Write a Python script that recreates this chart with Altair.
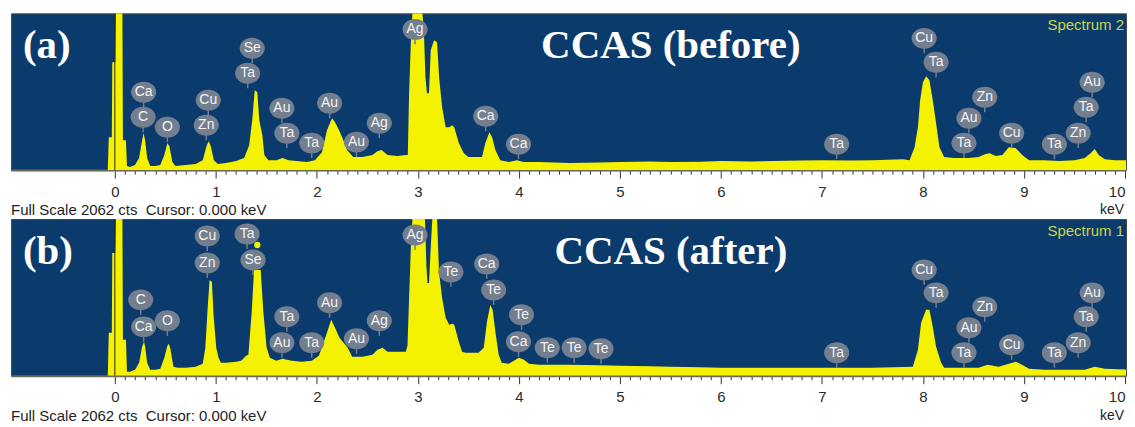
import altair as alt
import pandas as pd

# ---------------- data ----------------
# Panel (a) "CCAS (before)" spectrum: energy (keV) and counts (full scale 2062 cts)
a_kev = [-0.07, -0.06, -0.03, -0.025, 0.005, 0.01, 0.075, 0.08, 0.11, 0.12, 0.15, 0.2, 0.24, 0.27, 0.285,
         0.30, 0.32, 0.35, 0.4, 0.45, 0.49, 0.52, 0.54, 0.57, 0.6, 0.7, 0.8, 0.87, 0.91, 0.93,
         0.95, 0.98, 1.02, 1.1, 1.2, 1.28, 1.33, 1.36, 1.385, 1.41, 1.43, 1.46, 1.48, 1.52, 1.6,
         1.66, 1.72, 1.8, 1.9, 1.98, 2.05, 2.10, 2.15, 2.18, 2.22, 2.25, 2.30, 2.36, 2.45, 2.55,
         2.6, 2.64, 2.7, 2.8, 2.88, 2.9, 2.913, 2.93, 2.946, 3.045, 3.06, 3.075, 3.09, 3.11, 3.127,
         3.16, 3.19, 3.21, 3.24, 3.275, 3.31, 3.34, 3.36, 3.405, 3.455, 3.5, 3.6, 3.635, 3.668, 3.708,
         3.735, 3.767, 3.816, 3.9, 3.98, 4.05, 4.2, 4.5, 4.8, 5.0, 5.3, 5.5, 5.8, 6.0, 6.3,
         6.5, 6.8, 7.0, 7.3, 7.5, 7.8, 7.867, 7.917, 7.95, 7.972, 8.0, 8.031, 8.064, 8.097, 8.13,
         8.163, 8.21, 8.3, 8.45, 8.55, 8.62, 8.66, 8.72, 8.786, 8.85, 8.917, 8.983, 9.05, 9.2, 9.35,
         9.5, 9.6, 9.66, 9.7, 9.74, 9.8, 9.9, 10.05]
a_cts = [0, 433, 433, 1418, 1418, 2062, 2062, 394, 394, 53, 39, 66, 158, 394, 486,
         394, 158, 53, 53, 66, 197, 355, 315, 105, 53, 66, 79, 131, 328, 381,
         315, 131, 79, 92, 118, 158, 328, 657, 1050, 1024, 657, 460, 197, 131, 131,
         158, 131, 118, 105, 131, 236, 525, 683, 630, 525, 433, 263, 171, 171, 197,
         249, 263, 197, 184, 197, 197, 1011, 1668, 2062, 2062, 1799, 1221, 1011, 1011, 1576,
         1707, 1681, 1221, 827, 565, 565, 591, 565, 355, 223, 171, 171, 171, 355, 499,
         433, 263, 131, 105, 131, 105, 105, 92, 100, 105, 112, 105, 110, 118, 112,
         118, 125, 131, 125, 131, 144, 131, 302, 565, 919, 1155, 1234, 1182, 919, 617,
         302, 171, 158, 158, 171, 210, 223, 184, 197, 302, 289, 197, 131, 131, 118,
         131, 158, 223, 276, 197, 144, 131, 131]

# Panel (b) "CCAS (after)" spectrum
b_kev = [-0.07, -0.06, -0.03, -0.025, 0.005, 0.01, 0.075, 0.08, 0.11, 0.12, 0.15, 0.2, 0.24, 0.27, 0.289,
         0.30, 0.32, 0.35, 0.4, 0.45, 0.49, 0.52, 0.535, 0.55, 0.58, 0.62, 0.7, 0.8, 0.87, 0.896,
         0.919, 0.938, 0.961, 0.977, 1.004, 1.027, 1.05, 1.1, 1.2, 1.25, 1.3, 1.322, 1.355, 1.378, 1.444,
         1.47, 1.503, 1.535, 1.6, 1.66, 1.75, 1.85, 1.95, 2.02, 2.093, 2.142, 2.175, 2.224, 2.306, 2.35,
         2.45, 2.55, 2.6, 2.65, 2.7, 2.8, 2.88, 2.897, 2.913, 2.93, 2.946, 3.07, 3.084, 3.095, 3.11,
         3.127, 3.143, 3.19, 3.209, 3.24, 3.275, 3.31, 3.34, 3.36, 3.405, 3.438, 3.47, 3.6, 3.652, 3.684,
         3.717, 3.74, 3.767, 3.8, 3.83, 3.9, 4.0, 4.05, 4.1, 4.2, 4.5, 4.8, 5.0, 5.3, 5.5,
         5.8, 6.0, 6.5, 7.0, 7.5, 7.9, 7.95, 7.982, 8.031, 8.064, 8.097, 8.13, 8.18, 8.21, 8.3,
         8.55, 8.64, 8.75, 8.85, 8.92, 8.98, 9.05, 9.2, 9.6, 9.7, 9.8, 10.05]
b_cts = [0, 565, 565, 1615, 1615, 2062, 2062, 473, 473, 53, 53, 79, 171, 381, 446,
         381, 171, 79, 79, 92, 236, 394, 420, 355, 118, 105, 105, 118, 158, 368,
         893, 1260, 1234, 801, 368, 236, 171, 171, 184, 197, 263, 276, 840, 1392, 1392,
         840, 368, 236, 197, 223, 197, 184, 197, 263, 538, 735, 643, 499, 368, 249,
         249, 276, 340, 368, 315, 315, 315, 394, 1024, 1681, 2062, 2062, 1457, 1221, 1221,
         1681, 2062, 2062, 1366, 1024, 762, 670, 683, 670, 446, 315, 302, 302, 368, 709,
         932, 867, 578, 276, 171, 158, 236, 210, 158, 144, 144, 138, 131, 125, 118,
         112, 105, 105, 105, 105, 118, 341, 696, 867, 867, 643, 381, 171, 105, 105,
         105, 144, 118, 158, 184, 144, 92, 79, 79, 118, 92, 79]

# Element markers (label, energy, height in cts)
a_lab_el = ["Ca", "C", "O", "Cu", "Zn", "Se", "Ta", "Au", "Ta", "Ta", "Au", "Au", "Ag", "Ag", "Ca", "Ca",
            "Ta", "Cu", "Ta", "Zn", "Au", "Ta", "Cu", "Ta", "Zn", "Ta", "Au"]
a_lab_kev = [0.285, 0.28, 0.52, 0.925, 0.905, 1.36, 1.315, 1.654, 1.703, 1.949, 2.126, 2.392, 2.618, 2.972,
             3.671, 3.996, 7.146, 8.012, 8.13, 8.612, 8.455, 8.406, 8.878, 9.301, 9.537, 9.616, 9.675]
a_lab_cts = [1024, 696, 565, 919, 591, 1602, 1274, 814, 486, 355, 880, 368, 617, 1851, 709, 341,
             341, 1733, 1418, 959, 683, 355, 486, 341, 486, 827, 1155]

b_lab_el = ["C", "Ca", "O", "Cu", "Zn", "Ta", "Se", "Ta", "Au", "Ta", "Au", "Au", "Ag", "Ag", "Te", "Ca",
            "Te", "Te", "Ca", "Te", "Te", "Te", "Ta", "Cu", "Ta", "Zn", "Au", "Ta", "Cu", "Ta", "Zn",
            "Ta", "Au"]
b_lab_kev = [0.256, 0.285, 0.52, 0.915, 0.915, 1.309, 1.368, 1.703, 1.654, 1.949, 2.126, 2.392, 2.618, 2.972,
             3.327, 3.681, 3.75, 4.026, 3.996, 4.281, 4.547, 4.813, 7.146, 8.012, 8.13, 8.612, 8.455, 8.406,
             8.878, 9.301, 9.537, 9.616, 9.675]
b_lab_cts = [998, 643, 722, 1838, 1484, 1864, 1523, 775, 433, 433, 959, 486, 722, 1851, 1366, 1471,
             1129, 801, 446, 368, 368, 355, 302, 1392, 1090, 906, 630, 302, 407, 302, 433, 775, 1090]

b_marker_kev = [1.41]
b_marker_cts = [1720]

tick_values = [round(i * 0.1, 1) for i in range(0, 101)]

# ---------------- styling ----------------
W, H = 1117, 157
XDOM = [-1.028, 10.01]
BLUE = "#0b3a6c"
YELLOW = "#f4f200"
BADGE = "#737e8e"
ELLIPSE = "M-1.2,0A1.2,1,0,1,0,1.2,0A1.2,1,0,1,0,-1.2,0Z"


def panel(kev, cts, lab_el, lab_kev, lab_cts, letter, title, spec_name, mk_kev=None, mk_cts=None):
    spec = pd.DataFrame({"keV": kev, "cts": cts})
    labs = pd.DataFrame({"el": lab_el, "keV": lab_kev, "cts": lab_cts})
    axis = alt.Axis(
        values=tick_values,
        labelExpr="datum.value % 1 === 0 ? format(datum.value, 'd') : ''",
        tickSize={"condition": {"test": "datum.value % 1 === 0", "value": 8}, "value": 4},
        labelAlign={"condition": {"test": "datum.value >= 10", "value": "right"}, "value": "center"},
        tickColor="#333333",
        tickWidth=1,
        domainColor="#6b6b58",
        domainWidth=2,
        labelFont="Liberation Sans",
        labelFontSize=15,
        labelColor="#2b2b2b",
        labelPadding=6,
        labelOverlap=False,
        labelFlush=False,
        grid=False,
        title=None,
    )
    x = alt.X("keV:Q", scale=alt.Scale(domain=XDOM, nice=False, zero=False), axis=axis)
    y = alt.Y("cts:Q", scale=alt.Scale(domain=[0, 2062], nice=False), axis=None)

    area = alt.Chart(spec).mark_area(color=YELLOW, interpolate="linear", clip=True).encode(x=x, y=y)
    zero = alt.Chart(pd.DataFrame({"keV": [0]})).mark_rule(color="#2a2a2a", strokeWidth=1).encode(x=x)
    stems = alt.Chart(labs).mark_rule(color=BADGE, strokeWidth=1.5, y2Offset=15).encode(
        x=x, y=y, y2=alt.Y2("cts:Q"))
    dots = alt.Chart(labs).mark_point(shape=ELLIPSE, size=440, filled=True, color=BADGE,
                                      opacity=1, strokeWidth=0).encode(x=x, y=y)
    txt = alt.Chart(labs).mark_text(color="#f4f4f4", font="Liberation Sans", fontSize=14).encode(
        x=x, y=y, text="el:N")
    layers = [area, zero, stems, dots, txt]
    if mk_kev is not None:
        mk = pd.DataFrame({"keV": mk_kev, "cts": mk_cts})
        layers.append(alt.Chart(mk).mark_circle(size=40, color=YELLOW, opacity=1).encode(x=x, y=y))

    ann = pd.DataFrame({"letter": [letter], "title": [title], "spec": [spec_name],
                        "fs": ["Full Scale 2062 cts\u00a0\u00a0Cursor: 0.000 keV"], "unit": ["keV"]})
    base = alt.Chart(ann)
    layers += [
        base.mark_text(font="Liberation Serif", fontWeight="bold", fontSize=41, color="white",
                       align="left", baseline="alphabetic").encode(
            x=alt.value(12), y=alt.value(45), text="letter:N"),
        base.mark_text(font="Liberation Serif", fontWeight="bold", fontSize=41, color="white",
                       align="center", baseline="alphabetic").encode(
            x=alt.value(661), y=alt.value(45), text="title:N"),
        base.mark_text(font="Liberation Sans", fontSize=15, color="#c9d64a",
                       align="right", baseline="alphabetic").encode(
            x=alt.value(W - 2), y=alt.value(17), text="spec:N"),
        base.mark_text(font="Liberation Sans", fontSize=15, color="#1e1e1e",
                       align="left", baseline="alphabetic").encode(
            x=alt.value(0), y=alt.value(H + 45), text="fs:N"),
        base.mark_text(font="Liberation Sans", fontSize=14, color="#1e1e1e",
                       align="right", baseline="alphabetic").encode(
            x=alt.value(W - 2), y=alt.value(H + 44), text="unit:N"),
    ]
    return alt.layer(*layers).properties(width=W, height=H)


pa = panel(a_kev, a_cts, a_lab_el, a_lab_kev, a_lab_cts, "(a)", "CCAS (before)", "Spectrum 2")
pb = panel(b_kev, b_cts, b_lab_el, b_lab_kev, b_lab_cts, "(b)", "CCAS (after)", "Spectrum 1",
           b_marker_kev, b_marker_cts)

chart = alt.vconcat(pa, pb, spacing=49, bounds="flush").properties(
    padding={"left": 2, "top": 4, "right": 0, "bottom": 0}
).configure(background="white").configure_view(fill=BLUE, stroke="#4a4a4a", strokeWidth=1)

chart.save("out.html", embed_options={"renderer": "svg", "actions": False})
